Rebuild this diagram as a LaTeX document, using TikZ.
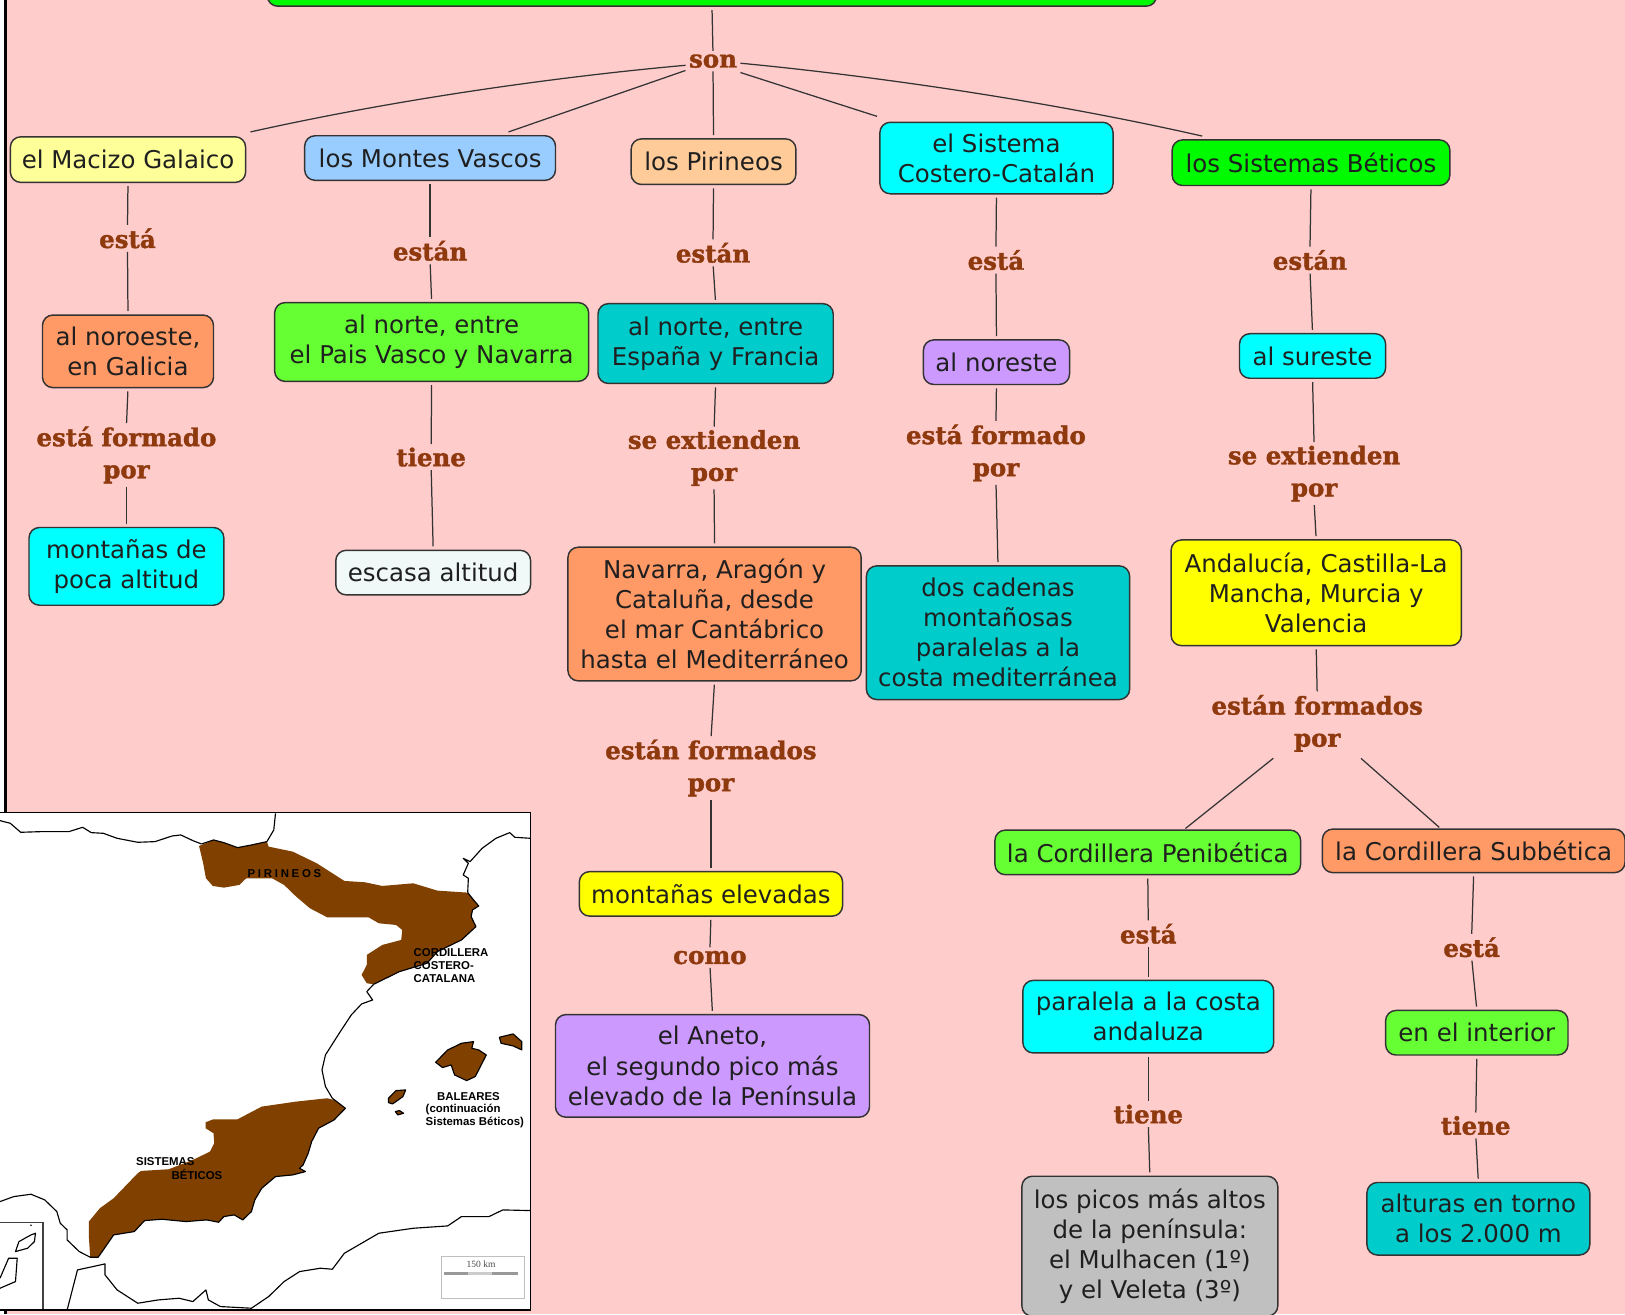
\documentclass[tikz,border=0pt]{standalone}
\usepackage{fontspec}
\setmainfont{DejaVu Sans}
\newfontfamily\linkfont{DejaVu Serif Bold}[FakeBold=1.5]
\newfontfamily\mapfont{Liberation Sans}
\newfontfamily\mapserif{Liberation Serif}
\definecolor{bgpink}{HTML}{FFCCCC}
\definecolor{linkbrown}{HTML}{8F3A0E}
\definecolor{cpale}{HTML}{FFFF99}
\definecolor{cblue}{HTML}{99CCFF}
\definecolor{cpeach}{HTML}{FFCC99}
\definecolor{ccyan}{HTML}{00FFFF}
\definecolor{cgreen}{HTML}{00FA00}
\definecolor{corange}{HTML}{FF9966}
\definecolor{clime}{HTML}{66FF33}
\definecolor{cteal}{HTML}{00CCCC}
\definecolor{cviolet}{HTML}{CC99FF}
\definecolor{cwhite}{HTML}{F0F8F8}
\definecolor{cyell}{HTML}{FFFF00}
\definecolor{cgrey}{HTML}{C0C0C0}
\definecolor{cmapbrown}{HTML}{804000}
\definecolor{outline}{HTML}{333333}
\tikzset{
  boxn/.style={draw=outline,line width=.7pt,rounded corners=5pt,inner sep=0pt,align=center,text=black!88,font=\fontsize{11.8}{14.5}\selectfont},
  lab/.style={inner sep=0pt,align=center,text=linkbrown,font=\fontsize{11.8}{15.5}\selectfont\linkfont},
  conn/.style={draw=outline,line width=.6pt,shorten >=1.5pt,shorten <=1.5pt},
  coast/.style={draw=black,line width=.55pt,line join=round},
  maptxt/.style={inner sep=0pt,text=black,font=\fontsize{5.5}{6}\selectfont\mapfont\bfseries},
}
\newcommand{\bx}[7]{%
  \pgfmathsetmacro\cx{(#2+#4)/2}\pgfmathsetmacro\cy{(#3+#5)/2}%
  \node[boxn,fill=#6,minimum width={(#4-#2)*0.5pt},minimum height={(#5-#3)*0.5pt}] (#1) at (\cx,\cy) {#7};}
\begin{document}
\begin{tikzpicture}[x=.5pt,y=-.5pt]
\useasboundingbox (0,0) rectangle (1568,1268);
\clip (0,0) rectangle (1568,1268);
\fill[bgpink] (0,0) rectangle (1568,1268);
\fill[white] (0,0) rectangle (4,1268);
\fill[black] (4,0) rectangle (7,1268);
% boxes
\bx{top}{258}{-20}{1116}{6}{cgreen}{}
\bx{macizo}{10}{132}{237}{176}{cpale}{el Macizo Galaico}
\bx{montes}{294}{131}{536}{174}{cblue}{los Montes Vascos}
\bx{pirineos}{609}{134}{768}{178}{cpeach}{los Pirineos}
\bx{sistema}{849}{118}{1074}{187}{ccyan}{el Sistema\\Costero-Catalán}
\bx{beticos}{1131}{135}{1399}{179}{cgreen}{los Sistemas Béticos}
\bx{noroeste}{41}{304}{206}{374}{corange}{al noroeste,\\en Galicia}
\bx{nortepais}{265}{292}{568}{368}{clime}{al norte, entre\\el Pais Vasco y Navarra}
\bx{norteesp}{577}{293}{804}{370}{cteal}{al norte, entre\\España y Francia}
\bx{noreste}{891}{328}{1032}{371}{cviolet}{al noreste}
\bx{sureste}{1196}{322}{1337}{365}{ccyan}{al sureste}
\bx{pocaalt}{28}{509}{216}{584}{ccyan}{montañas de\\poca altitud}
\bx{escasa}{324}{531}{512}{574}{cwhite}{escasa altitud}
\bx{navarra}{548}{528}{831}{657}{corange}{Navarra, Aragón y\\Cataluña, desde\\el mar Cantábrico\\hasta el Mediterráneo}
\bx{cadenas}{836}{546}{1090}{675}{cteal}{dos cadenas\\montañosas\\paralelas a la\\costa mediterránea}
\bx{andalucia}{1130}{521}{1410}{623}{cyell}{Andalucía, Castilla-La\\Mancha, Murcia y\\Valencia}
\bx{elevadas}{559}{841}{813}{884}{cyell}{montañas elevadas}
\bx{aneto}{536}{979}{839}{1078}{cviolet}{el Aneto,\\el segundo pico más\\elevado de la Península}
\bx{penib}{960}{801}{1255}{844}{clime}{la Cordillera Penibética}
\bx{subb}{1276}{800}{1568}{842}{corange}{la Cordillera Subbética}
\bx{paralela}{987}{946}{1229}{1016}{ccyan}{paralela a la costa\\andaluza}
\bx{interior}{1337}{975}{1513}{1018}{clime}{en el interior}
\bx{picos}{986}{1135}{1233}{1270}{cgrey}{los picos más altos\\de la península:\\el Mulhacen (1º)\\y el Veleta (3º)}
\bx{alturas}{1319}{1141}{1534}{1211}{cteal}{alturas en torno\\a los 2.000 m}
% labels
\node[lab] (son) at (688,59) {son};
\node[lab] (l1) at (123,230) {está};
\node[lab] (l2) at (122,439) {está formado\\por};
\node[lab] (l3) at (415,242) {están};
\node[lab] (l4) at (416,441) {tiene};
\node[lab] (l5) at (688,244) {están};
\node[lab] (l6) at (689,442) {se extienden\\por};
\node[lab] (l7) at (686,741) {están formados\\por};
\node[lab] (l8) at (685,924) {como};
\node[lab] (l9) at (961,251) {está};
\node[lab] (l10) at (961,437) {está formado\\por};
\node[lab] (l11) at (1264,251) {están};
\node[lab] (l12) at (1268,457) {se extienden\\por};
\node[lab] (l13) at (1271,698) {están formados\\por};
\node[lab] (l14) at (1108,901) {está};
\node[lab] (l15) at (1108,1075) {tiene};
\node[lab] (l16) at (1420,914) {está};
\node[lab] (l17) at (1424,1086) {tiene};
% connectors
\draw[conn] (top.south) -- (son.north);
\draw[conn,shorten <=0pt,shorten >=0pt] ([xshift=-1.5pt,yshift=-2pt]son.west) .. controls (560,72) and (400,92) .. ([xshift=2pt,yshift=2pt]macizo.north east);
\draw[conn,shorten <=0pt,shorten >=0pt] ([xshift=-1.5pt,yshift=-4.5pt]son.west) -- ([xshift=-23pt,yshift=1.5pt]montes.north east);
\draw[conn] (son.south) -- (pirineos.north);
\draw[conn,shorten <=0pt,shorten >=0pt] ([xshift=1.5pt,yshift=-5.5pt]son.east) -- ([xshift=-1pt,yshift=2.5pt]sistema.north west);
\draw[conn,shorten <=0pt,shorten >=0pt] ([xshift=1.5pt,yshift=-1pt]son.east) .. controls (830,72) and (1000,95) .. ([xshift=-52.5pt,yshift=1.5pt]beticos.north);
\foreach \a/\b in {macizo/l1,l1/noroeste,noroeste/l2,l2/pocaalt,montes/l3,l3/nortepais,nortepais/l4,l4/escasa,pirineos/l5,l5/norteesp,norteesp/l6,l6/navarra,navarra/l7,l7/elevadas,elevadas/l8,l8/aneto,sistema/l9,l9/noreste,noreste/l10,l10/cadenas,beticos/l11,l11/sureste,sureste/l12,l12/andalucia,andalucia/l13,penib/l14,l14/paralela,paralela/l15,l15/picos,subb/l16,l16/interior,interior/l17,l17/alturas}
  {\draw[conn] (\a.south) -- (\b.north);}
\draw[conn] ([xshift=-20pt,yshift=-2pt]l13.south) -- ([xshift=17pt,yshift=-.5pt]penib.north);
\draw[conn] ([xshift=20pt,yshift=-2pt]l13.south) -- ([xshift=-15.5pt,yshift=-.5pt]subb.north);
% map, in coordinates of a 1568 x 1542 crop
\begin{scope}[x=0.16615pt,y=-0.1608pt,shift={(0pt,-385.95pt)}]
\fill[white] (0,38) rectangle (1540,1530);
\draw[coast] (0,62) -- (30,70) -- (60,97) -- (120,95) -- (200,95) -- (240,82) -- (265,98) -- (300,100) -- (340,115) -- (400,127) -- (450,125) -- (500,108) -- (525,105) -- (560,122) -- (585,132);
\draw[coast] (775,125) -- (795,90) -- (800,40);
\draw[coast] (1540,115) -- (1495,112) -- (1480,98) -- (1440,115) -- (1400,145) -- (1365,185) -- (1345,175) -- (1360,190) -- (1345,225) -- (1360,235) -- (1358,278);
\draw[coast] (1085,553) -- (1065,575) -- (1082,600) -- (1050,612) -- (1020,645) -- (985,700) -- (945,765) -- (935,810) -- (945,860) -- (965,895);
\fill[cmapbrown] (578,138) -- (620,120) -- (650,128) -- (690,143) -- (730,135) -- (775,125) -- (780,140) -- (850,155) -- (920,190) -- (1000,243) -- (1060,247) -- (1110,258) -- (1200,250) -- (1270,272) -- (1358,278) -- (1375,300) -- (1390,318) -- (1372,330) -- (1368,350) -- (1382,380) -- (1340,420) -- (1270,455) -- (1240,490) -- (1160,515) -- (1085,553) -- (1065,550) -- (1050,525) -- (1065,495) -- (1065,465) -- (1110,435) -- (1165,420) -- (1168,390) -- (1150,375) -- (1100,370) -- (1070,352) -- (950,352) -- (900,325) -- (860,290) -- (825,255) -- (790,235) -- (715,235) -- (695,255) -- (650,263) -- (618,258) -- (598,235) -- (590,190) -- cycle;
\draw[coast] (585,132) -- (620,120) -- (650,128) -- (690,143) -- (730,135) -- (775,125);
\draw[coast] (1358,278) -- (1375,300) -- (1390,318) -- (1372,330) -- (1368,350) -- (1382,380) -- (1340,420) -- (1270,455) -- (1240,490) -- (1160,515) -- (1085,553);
\fill[cmapbrown] (258,1265) -- (290,1225) -- (330,1195) -- (400,1120) -- (410,1113) -- (490,1108) -- (560,1080) -- (610,1055) -- (622,1030) -- (620,1000) -- (597,985) -- (597,967) -- (620,958) -- (690,958) -- (760,920) -- (860,905) -- (950,895) -- (970,900) -- (1003,925) -- (970,960) -- (925,985) -- (905,1025) -- (895,1060) -- (880,1095) -- (870,1105) -- (887,1115) -- (850,1125) -- (800,1130) -- (760,1165) -- (740,1200) -- (730,1235) -- (705,1260) -- (680,1245) -- (650,1250) -- (635,1267) -- (600,1260) -- (540,1265) -- (470,1258) -- (420,1262) -- (390,1295) -- (330,1305) -- (300,1350) -- (285,1372) -- (262,1372) -- (258,1310) -- cycle;
\draw[coast] (965,895) -- (1003,925) -- (970,960) -- (925,985) -- (905,1025) -- (895,1060) -- (880,1095) -- (870,1105) -- (887,1115) -- (850,1125) -- (800,1130) -- (760,1165) -- (740,1200) -- (730,1235) -- (705,1260) -- (680,1245) -- (650,1250) -- (635,1267) -- (600,1260) -- (540,1265) -- (470,1258) -- (420,1262) -- (390,1295) -- (330,1305) -- (300,1350) -- (285,1372) -- (262,1372);
\filldraw[coast,fill=cmapbrown] (1265,787) -- (1300,750) -- (1340,730) -- (1375,725) -- (1370,745) -- (1390,750) -- (1412,765) -- (1395,800) -- (1380,830) -- (1355,842) -- (1320,825) -- (1310,795) -- (1285,803) -- cycle;
\filldraw[coast,fill=cmapbrown] (1450,712) -- (1490,702) -- (1515,725) -- (1515,750) -- (1490,738) -- (1455,730) -- cycle;
\filldraw[coast,fill=cmapbrown] (1128,895) -- (1150,872) -- (1178,870) -- (1170,890) -- (1140,912) -- (1128,908) -- cycle;
\filldraw[coast,fill=cmapbrown] (1148,935) -- (1160,932) -- (1172,940) -- (1155,945) -- cycle;
\draw[coast] (195,1530) -- (225,1410) -- (270,1400) -- (305,1392) -- (305,1425) -- (340,1470) -- (400,1510) -- (460,1500) -- (520,1495) -- (560,1505) -- (598,1470) -- (605,1500) -- (640,1520) -- (730,1525) -- (780,1490) -- (825,1445) -- (870,1415) -- (930,1405) -- (965,1408) -- (1000,1360) -- (1050,1330) -- (1100,1300) -- (1200,1285) -- (1300,1278) -- (1340,1250) -- (1420,1250) -- (1460,1230) -- (1540,1232);
\draw[coast] (0,1205) -- (40,1190) -- (90,1183) -- (130,1200) -- (165,1235) -- (175,1270) -- (195,1290) -- (195,1320) -- (230,1355) -- (262,1372);
% inset
\draw[draw=black!75,line width=.6pt] (0,1267) -- (125,1267) -- (125,1530);
\draw[coast] (45,1355) -- (55,1325) -- (90,1305) -- (103,1300) -- (100,1325) -- (80,1345) -- cycle;
\draw[coast] (0,1435) -- (25,1375) -- (50,1375) -- (45,1445) -- (0,1465);
\fill[black] (90,1276) circle (2.5);
% scale
\draw[draw=black!25,line width=.4pt] (1282,1370) rectangle (1523,1495);
\fill[black!40] (1290,1415) rectangle (1360,1424);
\fill[black!20] (1360,1415) rectangle (1430,1424);
\fill[black!40] (1430,1415) rectangle (1503,1424);
\node[inner sep=0pt,text=black!70,font=\fontsize{4.6}{5}\selectfont\mapserif] (km) at (1397,1392) {150 km};
% frame
\draw[black,line width=.6pt] (-10,38) rectangle (1540,1530);
% map labels
\node[maptxt] (mp) at (826,222) {\addfontfeature{LetterSpace=24}PIRINEOS};
\node[maptxt,anchor=west] (mc1) at (1200,457) {CORDILLERA};
\node[maptxt,anchor=west] (mc2) at (1200,496) {COSTERO-};
\node[maptxt,anchor=west] (mc3) at (1200,535) {CATALANA};
\node[maptxt,anchor=west] (mb1) at (1268,889) {BALEARES};
\node[maptxt,anchor=west] (mb2) at (1235,929) {(continuación};
\node[maptxt,anchor=west] (mb3) at (1235,968) {Sistemas Béticos)};
\node[maptxt] (ms1) at (480,1085) {SISTEMAS};
\node[maptxt] (ms2) at (572,1124) {BÉTICOS};
\end{scope}
\end{tikzpicture}
\end{document}
